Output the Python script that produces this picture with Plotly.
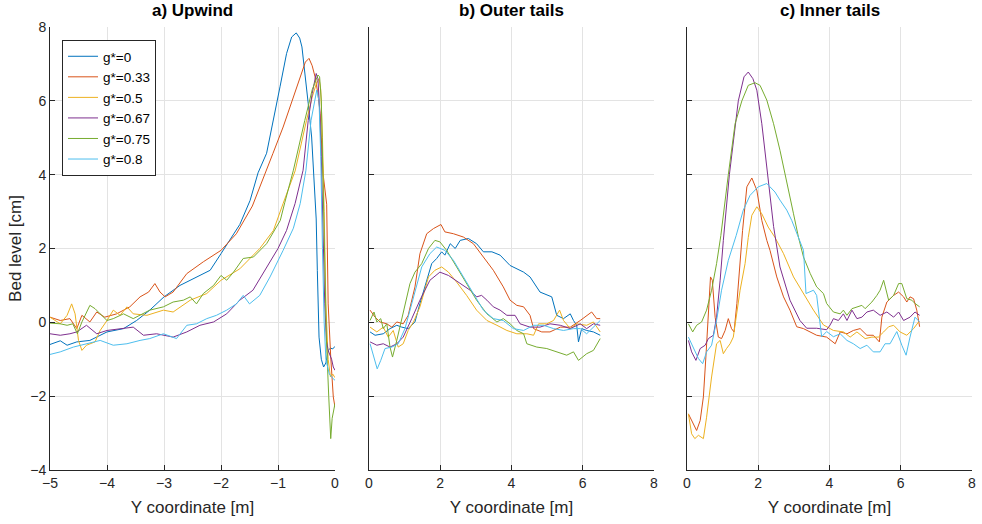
import plotly.graph_objects as go

names = ["g*=0", "g*=0.33", "g*=0.5", "g*=0.67", "g*=0.75", "g*=0.8"]
colors = ["#0072BD", "#D95319", "#EDB120", "#7E2F8E", "#77AC30", "#4DBEEE"]

# ---------------- a) Upwind ----------------
a0_x = [-5.0, -4.82, -4.7, -4.53, -4.3, -4.0, -3.71, -3.48, -3.25, -3.0, -2.72, -2.49, -2.19, -2.0, -1.67, -1.49, -1.35, -1.2, -1.08, -0.965, -0.85, -0.76, -0.68, -0.62, -0.58, -0.53, -0.47, -0.41, -0.37, -0.33, -0.31, -0.28, -0.24, -0.2, -0.16, -0.12, -0.08, -0.04, 0.0]
a0_y = [-0.6, -0.5, -0.62, -0.53, -0.49, -0.26, -0.17, 0.05, 0.33, 0.69, 1.0, 1.18, 1.41, 1.86, 2.65, 3.3, 4.05, 4.58, 5.47, 6.38, 7.28, 7.73, 7.84, 7.7, 7.46, 6.83, 5.93, 5.02, 4.03, 2.8, 1.4, -0.4, -1.0, -1.21, -1.1, -0.76, -0.7, -0.72, -0.65]

a1_x = [-5.0, -4.82, -4.65, -4.53, -4.44, -4.3, -4.18, -4.04, -3.83, -3.6, -3.42, -3.27, -3.16, -3.07, -2.98, -2.84, -2.6, -2.31, -2.0, -1.73, -1.45, -1.2, -1.09, -0.91, -0.73, -0.6, -0.52, -0.456, -0.4, -0.35, -0.3, -0.26, -0.21, -0.146, -0.12, -0.075, -0.03, 0.0]
a1_y = [0.14, 0.05, 0.1, -0.17, 0.19, 0.01, 0.28, 0.14, 0.23, 0.42, 0.69, 0.82, 1.05, 0.82, 0.69, 0.82, 1.32, 1.64, 1.95, 2.4, 3.15, 4.1, 4.57, 5.29, 6.1, 6.7, 7.05, 7.15, 6.95, 6.65, 6.2, 5.65, 4.03, 3.2, 0.5, -0.94, -2.02, -2.3]

a2_x = [-5.0, -4.82, -4.7, -4.62, -4.56, -4.5, -4.44, -4.36, -4.21, -4.12, -4.0, -3.89, -3.77, -3.65, -3.54, -3.3, -3.01, -2.84, -2.54, -2.25, -2.0, -1.67, -1.32, -1.08, -0.91, -0.7, -0.5, -0.4, -0.33, -0.28, -0.25, -0.22, -0.19, -0.16, -0.12, -0.08, -0.04, 0.0]
a2_y = [0.14, -0.04, 0.19, 0.5, 0.23, -0.49, -0.76, -0.62, -0.53, -0.22, 0.05, 0.33, 0.19, 0.42, 0.23, 0.19, 0.33, 0.28, 0.6, 0.78, 1.14, 1.45, 2.0, 2.49, 3.22, 4.1, 5.47, 6.1, 6.45, 6.6, 6.3, 5.0, 3.0, 0.5, -1.0, -1.48, -1.4, -1.5]

a3_x = [-5.0, -4.82, -4.65, -4.53, -4.36, -4.18, -4.0, -3.77, -3.54, -3.36, -3.13, -2.84, -2.6, -2.37, -2.13, -1.9, -1.67, -1.44, -1.37, -1.08, -1.0, -0.85, -0.7, -0.56, -0.47, -0.4, -0.33, -0.3, -0.27, -0.24, -0.21, -0.18, -0.15, -0.12, -0.06, -0.03, 0.0]
a3_y = [-0.31, -0.35, -0.31, -0.26, -0.08, -0.31, -0.22, -0.17, -0.13, -0.35, -0.31, -0.4, -0.26, -0.08, 0.01, 0.23, 0.6, 0.87, 1.05, 1.77, 2.0, 2.49, 3.22, 4.12, 5.47, 6.2, 6.74, 6.6, 5.8, 4.5, 2.5, 0.5, -0.5, -0.76, -1.0, -1.21, -1.3]

a4_x = [-5.0, -4.82, -4.7, -4.6, -4.52, -4.44, -4.3, -4.21, -4.12, -4.0, -3.89, -3.71, -3.54, -3.42, -3.25, -3.01, -2.84, -2.66, -2.54, -2.43, -2.31, -2.13, -2.0, -1.9, -1.78, -1.61, -1.43, -1.2, -0.96, -0.88, -0.73, -0.53, -0.4, -0.3, -0.27, -0.24, -0.21, -0.18, -0.15, -0.11, -0.075, -0.05, -0.02, 0.0]
a4_y = [-0.02, -0.04, -0.08, -0.04, -0.31, 0.01, 0.46, 0.37, 0.23, 0.05, 0.1, 0.23, 0.1, 0.19, 0.33, 0.42, 0.55, 0.6, 0.69, 0.5, 0.78, 1.0, 1.27, 1.14, 1.36, 1.73, 1.77, 2.13, 2.76, 3.25, 4.12, 5.47, 6.3, 6.7, 6.65, 6.0, 4.0, 1.5, -0.5, -2.0, -3.15, -2.6, -2.38, -2.2]

a5_x = [-5.0, -4.82, -4.59, -4.36, -4.12, -3.89, -3.65, -3.42, -3.25, -3.01, -2.78, -2.6, -2.43, -2.25, -2.08, -1.9, -1.73, -1.61, -1.5, -1.32, -1.14, -0.91, -0.73, -0.61, -0.51, -0.42, -0.36, -0.32, -0.28, -0.25, -0.22, -0.19, -0.16, -0.1, -0.05, 0.0]
a5_y = [-0.87, -0.8, -0.67, -0.58, -0.49, -0.62, -0.58, -0.49, -0.44, -0.31, -0.44, -0.08, -0.04, 0.1, 0.19, 0.33, 0.5, 0.73, 0.5, 0.73, 1.23, 1.95, 2.55, 3.22, 4.12, 5.47, 6.0, 6.29, 6.0, 4.5, 2.0, 0.0, -1.0, -1.4, -1.5, -1.57]

# ---------------- b) Outer tails ----------------
b0_x = [0.03, 0.17, 0.4, 0.59, 0.78, 0.92, 1.1, 1.29, 1.43, 1.62, 1.76, 1.9, 2.04, 2.13, 2.28, 2.42, 2.56, 2.79, 3.02, 3.21, 3.45, 3.68, 3.96, 4.34, 4.52, 4.8, 5.13, 5.27, 5.46, 5.65, 5.74, 5.83, 5.88, 5.97, 6.11, 6.3, 6.49]
b0_y = [-0.26, -0.35, -0.31, -0.17, -0.08, -0.13, -0.17, 0.01, 0.51, 1.14, 1.59, 1.73, 1.91, 1.82, 2.13, 2.0, 2.22, 2.27, 2.13, 1.91, 1.91, 1.82, 1.54, 1.36, 1.23, 0.82, 0.69, 0.19, 0.1, 0.23, 0.05, -0.08, -0.53, -0.17, -0.22, -0.26, -0.35]

b1_x = [0.03, 0.17, 0.31, 0.5, 0.64, 0.78, 0.96, 1.1, 1.29, 1.43, 1.62, 1.81, 2.02, 2.13, 2.37, 2.65, 2.93, 3.21, 3.49, 3.77, 3.96, 4.15, 4.34, 4.52, 4.62, 4.85, 5.08, 5.37, 5.65, 5.93, 6.11, 6.25, 6.39, 6.49]
b1_y = [0.33, 0.14, 0.01, -0.04, -0.13, 0.01, -0.04, 0.19, 0.96, 1.86, 2.4, 2.54, 2.65, 2.45, 2.4, 2.31, 2.13, 1.77, 1.41, 0.96, 0.6, 0.46, 0.42, 0.19, -0.17, -0.26, -0.26, -0.13, -0.13, 0.05, 0.19, 0.28, 0.1, 0.1]

b2_x = [0.03, 0.22, 0.4, 0.54, 0.68, 0.82, 0.96, 1.1, 1.25, 1.43, 1.67, 1.85, 2.04, 2.23, 2.46, 2.74, 3.02, 3.31, 3.59, 3.87, 4.15, 4.43, 4.62, 4.76, 4.99, 5.18, 5.35, 5.46, 5.65, 5.83, 6.11, 6.3, 6.49]
b2_y = [-0.13, -0.26, -0.13, -0.4, -0.22, -0.67, -0.58, -0.22, 0.01, 0.42, 1.23, 1.41, 1.5, 1.36, 1.09, 0.73, 0.33, 0.05, -0.08, -0.22, -0.31, -0.31, -0.35, -0.04, -0.04, 0.05, 0.33, 0.05, -0.17, -0.04, -0.08, 0.01, -0.26]

b3_x = [0.03, 0.22, 0.4, 0.59, 0.78, 0.96, 1.2, 1.43, 1.71, 1.99, 2.23, 2.56, 2.84, 3.02, 3.16, 3.31, 3.49, 3.68, 3.87, 4.1, 4.24, 4.52, 4.8, 5.08, 5.37, 5.65, 5.93, 6.11, 6.3, 6.49]
b3_y = [-0.53, -0.62, -0.58, -0.67, -0.58, -0.4, 0.1, 0.6, 1.14, 1.36, 1.27, 1.05, 0.87, 0.69, 0.73, 0.6, 0.42, 0.33, 0.19, 0.19, -0.04, -0.13, -0.13, -0.04, -0.08, -0.17, -0.04, -0.17, -0.04, -0.08]

b4_x = [0.03, 0.14, 0.22, 0.33, 0.4, 0.5, 0.59, 0.66, 0.78, 0.96, 1.15, 1.29, 1.48, 1.67, 1.85, 1.99, 2.18, 2.46, 2.74, 3.02, 3.31, 3.59, 3.77, 3.96, 4.15, 4.34, 4.43, 4.71, 4.99, 5.27, 5.55, 5.74, 5.88, 6.11, 6.3, 6.49]
b4_y = [0.05, 0.28, 0.01, 0.1, -0.17, -0.04, -0.67, -0.94, -0.49, 0.23, 1.05, 1.36, 1.59, 2.0, 2.22, 2.18, 1.95, 1.5, 1.05, 0.6, 0.23, 0.01, 0.1, -0.04, -0.22, -0.31, -0.58, -0.67, -0.71, -0.8, -0.89, -0.8, -1.03, -0.85, -0.76, -0.44]

b5_x = [0.03, 0.14, 0.23, 0.33, 0.45, 0.64, 0.82, 1.01, 1.25, 1.48, 1.71, 1.9, 2.13, 2.37, 2.65, 2.93, 3.21, 3.49, 3.77, 4.05, 4.34, 4.62, 4.9, 5.18, 5.46, 5.74, 5.93, 6.11, 6.3, 6.49]
b5_y = [-0.58, -0.94, -1.26, -1.03, -0.71, -0.67, -0.58, -0.17, 0.69, 1.5, 1.86, 2.04, 1.95, 1.68, 1.23, 0.78, 0.33, 0.1, 0.05, -0.17, -0.22, -0.08, -0.08, -0.17, -0.22, -0.17, -0.17, -0.31, -0.13, 0.05]

# ---------------- c) Inner tails ----------------
c1_x = [0.04, 0.13, 0.27, 0.37, 0.46, 0.53, 0.6, 0.66, 0.71, 0.79, 0.88, 0.97, 1.07, 1.16, 1.25, 1.32, 1.4, 1.49, 1.56, 1.68, 1.82, 1.96, 2.1, 2.24, 2.33, 2.52, 2.71, 2.89, 3.08, 3.27, 3.46, 3.64, 3.92, 4.16, 4.3, 4.49, 4.67, 4.86, 5.05, 5.23, 5.4, 5.47, 5.61, 5.8, 5.94, 6.08, 6.17, 6.26, 6.36, 6.45, 6.53]
c1_y = [-2.48, -2.66, -2.93, -2.66, -2.02, -0.94, 0.42, 1.23, 1.14, 0.14, -0.4, -0.44, -0.22, 0.1, -0.17, -0.26, 0.51, 1.59, 2.49, 3.67, 3.91, 3.58, 2.76, 2.22, 1.95, 1.23, 0.69, 0.33, -0.12, -0.17, -0.26, -0.35, -0.4, -0.58, -0.26, -0.31, -0.22, -0.17, -0.35, -0.35, -0.53, 0.14, 0.55, 0.73, 0.82, 0.69, 0.55, 0.69, 0.64, 0.33, -0.12]

c2_x = [0.04, 0.13, 0.22, 0.32, 0.46, 0.55, 0.69, 0.83, 0.93, 1.02, 1.11, 1.21, 1.3, 1.4, 1.49, 1.63, 1.72, 1.82, 1.96, 2.1, 2.28, 2.47, 2.71, 2.99, 3.27, 3.55, 3.83, 4.11, 4.39, 4.58, 4.77, 5.0, 5.19, 5.37, 5.52, 5.66, 5.8, 5.98, 6.17, 6.36, 6.5]
c2_y = [-2.48, -3.02, -3.15, -3.06, -3.15, -2.57, -1.48, -0.58, -0.49, -0.85, -0.71, -0.58, -0.4, 0.23, 0.87, 1.59, 2.3, 2.9, 3.13, 2.94, 2.58, 2.3, 1.86, 1.23, 0.78, 0.33, -0.07, -0.22, -0.26, -0.4, -0.26, -0.44, -0.4, -0.4, -0.26, -0.12, -0.08, -0.26, -0.35, -0.17, 0.01]

c3_x = [0.04, 0.13, 0.25, 0.37, 0.51, 0.6, 0.74, 0.83, 0.93, 1.02, 1.19, 1.44, 1.6, 1.72, 1.85, 1.96, 2.1, 2.26, 2.43, 2.61, 2.89, 3.17, 3.36, 3.64, 3.92, 4.02, 4.11, 4.25, 4.39, 4.49, 4.63, 4.77, 4.91, 5.05, 5.23, 5.42, 5.61, 5.8, 5.94, 6.08, 6.26, 6.4, 6.53]
c3_y = [-0.49, -0.8, -1.03, -0.71, -0.62, -0.44, -0.35, 0.14, 1.14, 2.22, 4.0, 6.0, 6.65, 6.78, 6.6, 6.29, 5.38, 4.03, 2.6, 1.5, 0.6, 0.05, -0.16, -0.16, -0.2, -0.07, 0.1, 0.05, 0.23, 0.05, 0.33, 0.1, 0.14, 0.28, 0.33, 0.19, 0.28, 0.14, 0.28, 0.05, 0.14, 0.28, 0.19]

c4_x = [0.04, 0.16, 0.27, 0.41, 0.55, 0.69, 0.83, 0.95, 1.16, 1.35, 1.54, 1.72, 1.91, 2.05, 2.24, 2.43, 2.61, 2.8, 2.99, 3.13, 3.27, 3.46, 3.64, 3.83, 3.92, 4.11, 4.3, 4.39, 4.49, 4.63, 4.77, 4.91, 5.0, 5.19, 5.33, 5.42, 5.52, 5.66, 5.8, 5.94, 6.03, 6.17, 6.31, 6.4, 6.53]
c4_y = [-0.04, -0.26, -0.08, 0.01, 0.33, 0.87, 1.59, 2.35, 4.0, 5.38, 6.0, 6.42, 6.49, 6.42, 6.02, 5.38, 4.66, 3.76, 2.94, 2.3, 1.77, 1.32, 0.96, 0.78, 0.51, 0.28, 0.23, 0.33, 0.19, 0.37, 0.42, 0.46, 0.37, 0.55, 0.73, 0.87, 1.14, 0.6, 0.73, 1.05, 1.05, 0.64, 0.6, 0.51, 0.42]

c5_x = [0.04, 0.18, 0.32, 0.44, 0.55, 0.69, 0.83, 0.97, 1.16, 1.38, 1.58, 1.77, 2.0, 2.24, 2.47, 2.61, 2.8, 2.94, 3.08, 3.2, 3.27, 3.34, 3.46, 3.55, 3.64, 3.74, 3.78, 3.92, 4.11, 4.3, 4.49, 4.67, 4.86, 5.05, 5.23, 5.42, 5.56, 5.7, 5.89, 6.03, 6.15, 6.26, 6.4, 6.53]
c5_y = [-0.4, -0.71, -0.98, -1.12, -0.8, -0.62, 0.05, 0.87, 1.68, 2.35, 3.04, 3.44, 3.67, 3.76, 3.53, 3.31, 3.04, 2.76, 2.4, 2.1, 1.95, 0.78, 0.82, 0.87, 0.73, -0.03, -0.39, -0.25, -0.39, -0.31, -0.49, -0.58, -0.71, -0.62, -0.8, -0.8, -0.58, -0.58, -0.25, -0.62, -0.89, -0.4, 0.14, 0.01]

panel_a = [(a0_x, a0_y), (a1_x, a1_y), (a2_x, a2_y), (a3_x, a3_y), (a4_x, a4_y), (a5_x, a5_y)]
panel_b = [(b0_x, b0_y), (b1_x, b1_y), (b2_x, b2_y), (b3_x, b3_y), (b4_x, b4_y), (b5_x, b5_y)]
panel_c = [None, (c1_x, c1_y), (c2_x, c2_y), (c3_x, c3_y), (c4_x, c4_y), (c5_x, c5_y)]

titles = ["a) Upwind", "b) Outer tails", "c) Inner tails"]
x_title = "Y coordinate [m]"
y_title = "Bed level [cm]"

fig = go.Figure()
for panel_idx, panel in enumerate([panel_a, panel_b, panel_c]):
    for i, series in enumerate(panel):
        if series is None:
            continue
        xs, ys = series
        fig.add_trace(go.Scatter(
            x=xs, y=ys, mode="lines", name=names[i],
            line=dict(color=colors[i], width=1),
            legendgroup=names[i], showlegend=(panel_idx == 0),
            xaxis="x" if panel_idx == 0 else f"x{panel_idx+1}",
            yaxis="y" if panel_idx == 0 else f"y{panel_idx+1}",
        ))

axcol = "#262626"
gridcol = "#e3e3e3"
font = "Liberation Sans, Arial, Helvetica, sans-serif"
TICK = 14
LABEL = 17

def xax(domain, rng, dtick, anchor):
    return dict(domain=domain, range=rng, dtick=dtick, tick0=0, anchor=anchor,
                showline=True, linecolor=axcol, linewidth=1, mirror=False,
                ticks="inside", ticklen=5, tickcolor=axcol, tickwidth=1,
                showgrid=True, gridcolor=gridcol, gridwidth=1, zeroline=False,
                automargin=False,
                tickfont=dict(size=TICK, color=axcol, family=font),
                title=dict(text=x_title, font=dict(size=LABEL, color=axcol, family=font), standoff=11))

def yax(anchor, labels):
    return dict(domain=[0, 1], range=[-4, 8], dtick=2, anchor=anchor,
                showline=True, linecolor=axcol, linewidth=1, mirror=False,
                ticks="inside", ticklen=5, tickcolor=axcol, tickwidth=1,
                showgrid=True, gridcolor=gridcol, gridwidth=1, zeroline=False,
                automargin=False, showticklabels=labels,
                tickfont=dict(size=TICK, color=axcol, family=font))

W = 922.0
dom_a = [0.0, 285 / W]
dom_b = [(369 - 50) / W, (654 - 50) / W]
dom_c = [(687 - 50) / W, 1.0]

ya = yax("x", True)
ya["title"] = dict(text=y_title, font=dict(size=LABEL, color=axcol, family=font), standoff=4)

fig.update_layout(
    width=982, height=524,
    margin=dict(l=50, r=10, t=27, b=54, autoexpand=False),
    paper_bgcolor="white", plot_bgcolor="white",
    font=dict(family=font, color=axcol),
    xaxis=xax(dom_a, [-5, 0], 1, "y"),
    yaxis=ya,
    xaxis2=xax(dom_b, [0, 8], 2, "y2"),
    yaxis2=yax("x2", False),
    xaxis3=xax(dom_c, [0, 8], 2, "y3"),
    yaxis3=yax("x3", False),
    legend=dict(x=12 / W, y=1 - 13 / 443, xanchor="left", yanchor="top",
                bgcolor="white", bordercolor=axcol, borderwidth=1,
                font=dict(size=13.5, color="#000000", family=font),
                tracegroupgap=0),
    showlegend=True,
)

for dom, t in zip([dom_a, dom_b, dom_c], titles):
    fig.add_annotation(text=f"<b>{t}</b>", x=(dom[0] + dom[1]) / 2, y=1, xref="paper", yref="paper",
                       xanchor="center", yanchor="bottom", yshift=5, showarrow=False,
                       font=dict(size=17, color="#000000", family=font))

fig.write_html("out.html", config={"displayModeBar": False},
               post_script="document.body.style.margin='0';document.body.style.overflow='hidden';")
